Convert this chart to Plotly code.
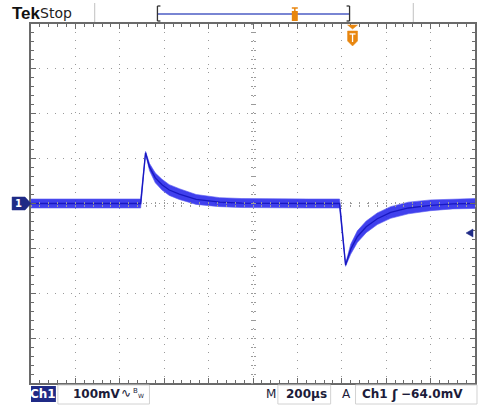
import plotly.graph_objects as go

# ---- data (time in µs, 200 µs/div; level in mV, 100 mV/div)
time_us = [0, 100, 200, 300, 400, 494, 516, 534, 560, 590, 623, 668, 744, 850, 950,
           1100, 1250, 1390, 1417, 1440, 1470, 1510, 1560, 1620, 1700, 1800, 1900, 2000]
center_mv = [0, 0, 0, 0, 0, 0, 113, 81, 57, 42, 30, 21, 9, 3, 1,
             0, 0, 0, -137, -102, -74, -52, -34, -20, -10, -4, -1, 0]
spread_mv = [10, 10, 10, 10, 10, 10, 3, 8, 11, 12, 12, 12, 11, 10, 10,
             10, 10, 10, 3, 11, 13, 13, 13, 13, 13, 12, 11, 11]

x_range = [0, 2000]
y_range = [-400, 400]
x_div, y_div = 200, 100

header_left = "Tek"
header_state = "Stop"
ch_label = "Ch1"
ch_scale = "100mV"
time_prefix = "M"
time_scale = "200µs"
trig_prefix = "A"
trig_src = "Ch1"
trig_level = "−64.0mV"

upper = [c + s for c, s in zip(center_mv, spread_mv)]
lower = [c - s for c, s in zip(center_mv, spread_mv)]

W, H = 480, 406
L, R, T, B = 31, 3, 24, 23
PW, PH = W - L - R, H - T - B


def fx(px):
    return (px - L) / PW


def fy(py):
    return (H - B - py) / PH


NAVY = "#1f2a86"
TXT = "#1c1c3a"
ORANGE = "#e8860f"
GRID = "#9a9a9a"
FRAME = "#6a6a6a"

fig = go.Figure()
fig.add_trace(go.Scatter(x=time_us, y=upper, mode="lines",
                         line=dict(color="rgba(90,90,240,0.6)", width=1),
                         hoverinfo="skip"))
fig.add_trace(go.Scatter(x=time_us, y=lower, mode="lines", fill="tonexty",
                         fillcolor="rgba(48,48,235,0.92)",
                         line=dict(color="rgba(90,90,240,0.6)", width=1),
                         hoverinfo="skip"))
fig.add_trace(go.Scatter(x=time_us, y=center_mv, mode="lines",
                         line=dict(color="#1818c0", width=1.3), hoverinfo="skip"))
# helper traces so the centre tick axes render
for xa, ya in [("x2", "y"), ("x3", "y"), ("x", "y2"), ("x", "y3")]:
    fig.add_trace(go.Scatter(x=[None], y=[None], xaxis=xa, yaxis=ya,
                             hoverinfo="skip", showlegend=False))

common_x = dict(range=x_range, showticklabels=False, zeroline=False, fixedrange=True)
common_y = dict(range=y_range, showticklabels=False, zeroline=False, fixedrange=True)

fig.update_layout(
    width=W, height=H,
    margin=dict(l=L, r=R, t=T, b=B, pad=0),
    paper_bgcolor="white", plot_bgcolor="white",
    showlegend=False,
    xaxis=dict(**common_x, dtick=x_div, tick0=0, showgrid=True, gridcolor=GRID,
               griddash="1px,7px", gridwidth=1,
               showline=True, linecolor=FRAME, linewidth=1.5, mirror="ticks",
               ticks="inside", ticklen=5, tickcolor=FRAME,
               minor=dict(ticks="inside", ticklen=3, dtick=x_div / 5, tick0=0,
                          tickcolor=FRAME)),
    yaxis=dict(**common_y, dtick=y_div, tick0=0, showgrid=True, gridcolor=GRID,
               griddash="1px,7px", gridwidth=1,
               showline=True, linecolor=FRAME, linewidth=1.5, mirror="ticks",
               ticks="inside", ticklen=5, tickcolor=FRAME,
               minor=dict(ticks="inside", ticklen=3, dtick=y_div / 5, tick0=0,
                          tickcolor=FRAME)),
    xaxis2=dict(**common_x, overlaying="x", anchor="free", position=0.5,
                showgrid=False, showline=False, ticks="outside", ticklen=2,
                dtick=x_div / 5, tick0=0, tickcolor=GRID),
    xaxis3=dict(**common_x, overlaying="x", anchor="free", position=0.5,
                showgrid=False, showline=False, ticks="inside", ticklen=2,
                dtick=x_div / 5, tick0=0, tickcolor=GRID),
    yaxis2=dict(**common_y, overlaying="y", anchor="free", position=0.5,
                showgrid=False, showline=False, ticks="outside", ticklen=2,
                dtick=y_div / 5, tick0=0, tickcolor=GRID),
    yaxis3=dict(**common_y, overlaying="y", anchor="free", position=0.5,
                showgrid=False, showline=False, ticks="inside", ticklen=2,
                dtick=y_div / 5, tick0=0, tickcolor=GRID),
)

shapes = []
ann = []


def text(px, py, s, size=12, color=TXT, bold=True, xanchor="left",
         family="DejaVu Sans", bg=None):
    s2 = f"<b>{s}</b>" if bold else s
    d = dict(x=fx(px), y=fy(py), xref="paper", yref="paper", text=s2,
             showarrow=False, xanchor=xanchor, yanchor="middle",
             font=dict(size=size, color=color, family=family))
    if bg:
        d["bgcolor"] = bg
    ann.append(d)


def rect(x0, y0, x1, y1, fill=None, line=None, lw=1):
    shapes.append(dict(type="rect", xref="paper", yref="paper",
                       x0=fx(x0), x1=fx(x1), y0=fy(y1), y1=fy(y0),
                       fillcolor=fill or "rgba(0,0,0,0)",
                       line=dict(color=line or "rgba(0,0,0,0)", width=lw),
                       layer="above"))


def seg(x0, y0, x1, y1, color, w=1):
    shapes.append(dict(type="line", xref="paper", yref="paper",
                       x0=fx(x0), x1=fx(x1), y0=fy(y0), y1=fy(y1),
                       line=dict(color=color, width=w), layer="above"))


def path(pts, fill):
    d = "M " + " L ".join(f"{fx(a):.5f},{fy(b):.5f}" for a, b in pts) + " Z"
    shapes.append(dict(type="path", xref="paper", yref="paper", path=d,
                       fillcolor=fill, line=dict(color=fill, width=0.5),
                       layer="above"))


# ---- header
text(10, 13, header_left, size=17, color="#111111", family="Liberation Sans")
text(38, 13, header_state, size=14, color="#222222", bold=False, family="DejaVu Sans")
seg(95, 3, 95, 22, "#c0c0c0", 1)
seg(415, 3, 415, 22, "#c0c0c0", 1)
# record window bar
seg(158, 14, 351, 14, "#4d5cc4", 1.5)
seg(158, 6, 158, 21, "#333333", 1.3)
seg(158, 6, 161, 6, "#333333", 1.3)
seg(158, 21, 161, 21, "#333333", 1.3)
seg(351, 6, 351, 21, "#333333", 1.3)
seg(348, 6, 351, 6, "#333333", 1.3)
seg(348, 21, 351, 21, "#333333", 1.3)
rect(293, 11, 299, 21, fill=ORANGE)
seg(293, 8, 299, 8, ORANGE, 1.5)
seg(296, 8, 296, 12, ORANGE, 1.5)
# trigger position marker
path([(349, 25), (359, 25), (354, 29)], ORANGE)
path([(349, 31), (359, 31), (359, 41), (354, 46), (349, 41)], ORANGE)
seg(351, 34, 357, 34, "white", 1.3)
seg(354, 34, 354, 42, "white", 1.3)

# channel 1 ground marker
path([(12, 197), (25, 197), (31, 203.5), (25, 210), (12, 210)], NAVY)
text(18, 203.5, "1", size=10, color="white", xanchor="center")
# trigger level marker
path([(468, 233), (475, 229), (475, 237)], NAVY)

# ---- bottom status bar
rect(31, 386, 56, 402, fill=NAVY)
text(43.5, 394, ch_label, size=12, color="white", xanchor="center")
rect(58, 385, 150, 404, line="#d2d2d2")
text(71, 394, ch_scale, size=12)
text(119, 393, "∿", size=12, bold=False)
text(131, 391, "B", size=7, bold=False)
text(136, 396, "W", size=6, bold=False)
text(265, 394, time_prefix, size=12, bold=False)
rect(279, 385, 332, 404, line="#d2d2d2")
text(285, 394, time_scale, size=12)
text(341, 394, trig_prefix, size=12, bold=False)
rect(357, 385, 479, 404, line="#d2d2d2")
text(361, 394, trig_src, size=12)
text(391, 394, "ʃ", size=13)
text(401, 394, trig_level, size=12)

fig.update_layout(shapes=shapes, annotations=ann)
fig.write_html("out.html", config={"displayModeBar": False},
               post_script="document.body.style.margin='0';document.body.style.overflow='hidden';")
